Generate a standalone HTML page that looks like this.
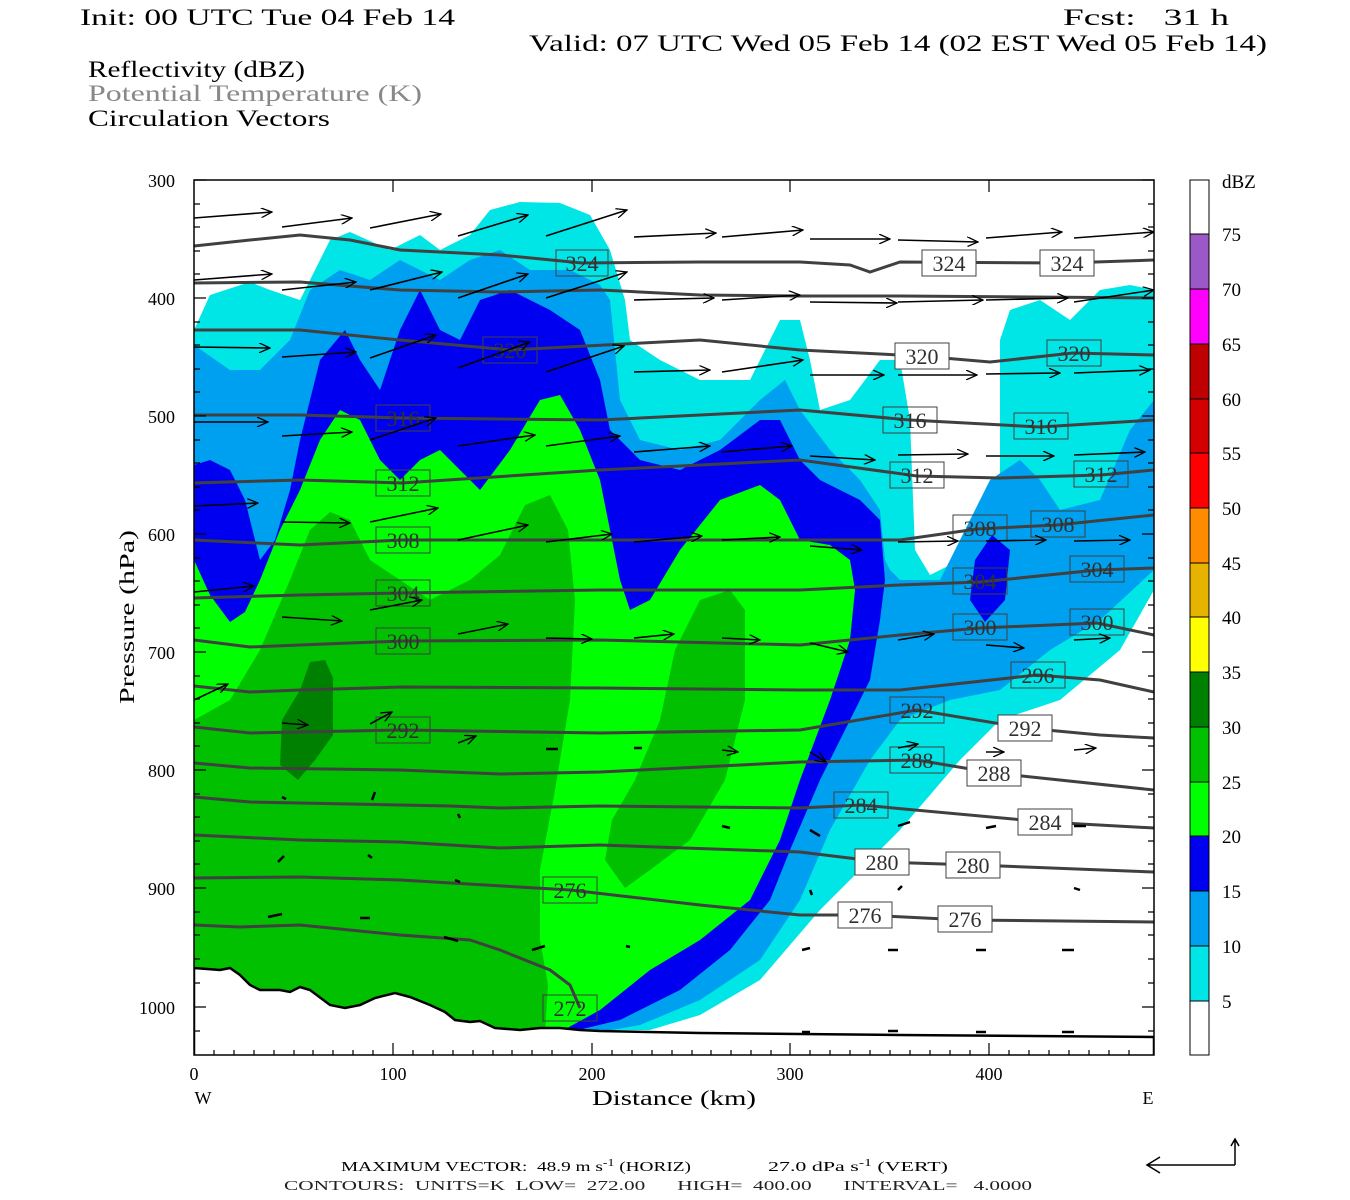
<!DOCTYPE html>
<html><head><meta charset="utf-8"><style>
html,body{margin:0;padding:0;background:#fff;}
svg{display:block;}
text{font-family:"Liberation Serif",serif;white-space:pre;}
</style></head><body>
<svg width="1350" height="1200" viewBox="0 0 1350 1200" xmlns="http://www.w3.org/2000/svg" xml:space="preserve">
<defs>
<marker id="ah" markerWidth="12" markerHeight="10" refX="11" refY="5" orient="auto" markerUnits="userSpaceOnUse">
<path d="M0,0 L11,5 L0,10" fill="none" stroke="#000" stroke-width="1.3"/>
</marker>
<clipPath id="pc"><rect x="194" y="180" width="960" height="875"/></clipPath>
</defs>
<rect width="1350" height="1200" fill="#fff"/>
<g font-size="23" fill="#000">
<text x="80" y="25" textLength="375" lengthAdjust="spacingAndGlyphs">Init: 00 UTC Tue 04 Feb 14</text>
<text x="1063" y="25" textLength="166" lengthAdjust="spacingAndGlyphs">Fcst:   31 h</text>
<text x="529" y="51" textLength="738" lengthAdjust="spacingAndGlyphs">Valid: 07 UTC Wed 05 Feb 14 (02 EST Wed 05 Feb 14)</text>
<text x="88" y="77" textLength="217" lengthAdjust="spacingAndGlyphs">Reflectivity (dBZ)</text>
<text x="88" y="101" textLength="334" lengthAdjust="spacingAndGlyphs" fill="#888">Potential Temperature (K)</text>
<text x="88" y="126" textLength="242" lengthAdjust="spacingAndGlyphs">Circulation Vectors</text>
</g>
<g clip-path="url(#pc)">
<path fill="#00e6e6" d="M194,330 L210,295 L250,282 L270,290 L300,300 L330,240 L350,232 L390,250 L420,235 L440,250 L470,235 L490,210 L520,202 L560,203 L590,215 L610,250 L625,300 L630,340 L660,360 L700,380 L750,380 L780,320 L800,320 L810,360 L820,410 L850,400 L880,360 L900,360 L910,420 L915,550 L930,575 L960,560 L1000,540 L1000,340 L1010,310 L1040,300 L1070,320 L1100,290 L1130,285 L1154,290 L1154,590 L1120,650 L1060,700 L1000,720 L960,760 L900,830 L820,910 L760,980 L700,1015 L650,1030 L194,1030 Z"/>
<path fill="#00a0f0" d="M194,345 L230,370 L260,370 L290,340 L310,290 L340,270 L370,280 L400,260 L440,280 L470,260 L500,250 L530,270 L570,270 L600,285 L610,300 L620,400 L640,440 L680,450 L720,440 L760,400 L785,380 L800,410 L830,450 L860,480 L880,510 L885,560 L890,570 L900,580 L940,580 L960,540 L990,480 L1020,460 L1040,480 L1060,510 L1100,500 L1130,430 L1154,400 L1154,570 L1100,620 L1050,650 L1000,690 L950,700 L900,720 L870,760 L830,830 L800,900 L760,960 L700,1000 L640,1025 L600,1032 L194,1032 Z"/>
<path fill="#0000f0" d="M194,465 L210,460 L230,470 L245,500 L255,540 L260,560 L275,540 L290,490 L300,440 L320,360 L345,330 L360,360 L380,390 L400,330 L420,290 L440,330 L460,340 L480,300 L510,290 L550,310 L580,330 L600,380 L610,430 L640,460 L680,470 L720,450 L760,420 L780,420 L800,460 L820,480 L860,500 L880,520 L885,580 L880,620 L870,680 L850,720 L820,780 L790,850 L770,900 L730,950 L680,990 L620,1020 L570,1032 L194,1032 Z"/>
<path fill="#0000f0" d="M975,560 L992,535 L1010,550 L1005,600 L985,622 L970,600 Z"/>
<path fill="#00ff00" d="M194,560 L210,595 L230,622 L245,612 L260,580 L280,530 L300,490 L320,440 L340,410 L360,420 L380,460 L400,480 L420,460 L440,450 L460,470 L480,490 L510,450 L540,400 L560,395 L580,430 L600,480 L610,530 L620,580 L630,610 L650,600 L680,550 L720,500 L760,485 L780,500 L800,540 L830,545 L850,560 L855,590 L850,640 L830,700 L800,780 L780,840 L750,900 L700,940 L650,970 L600,1010 L560,1032 L194,1032 Z"/>
<path fill="#00c000" d="M194,720 L230,700 L260,650 L290,580 L310,530 L330,512 L350,520 L370,560 L400,580 L430,600 L470,580 L500,555 L525,505 L550,495 L568,530 L575,600 L570,700 L555,790 L540,870 L540,940 L548,985 L545,1032 L194,1032 Z"/>
<path fill="#00c000" d="M605,860 L612,820 L635,780 L660,720 L675,650 L700,600 L730,590 L745,610 L745,700 L725,780 L690,840 L650,870 L625,888 Z"/>
<path fill="#008000" d="M280,765 L282,720 L300,690 L310,662 L325,660 L333,678 L333,735 L315,760 L298,780 Z"/>
<path fill="#fff" stroke="#000" stroke-width="2.5" d="M194,968 L220,970 L230,968 L240,975 L250,985 L260,990 L280,990 L290,992 L300,987 L310,990 L330,1005 L345,1008 L360,1005 L375,998 L395,993 L410,997 L430,1005 L445,1012 L455,1020 L470,1022 L480,1021 L495,1028 L520,1030 L540,1028 L560,1028 L580,1030 L600,1031 L700,1033 L800,1034 L900,1035 L1154,1037 L1154,1060 L194,1060 Z"/>
<g fill="none" stroke="#404040" stroke-width="3">
<polyline points="194,246 250,240 300,235 350,240 400,250 500,255 582,263 700,262 800,262 850,265 870,272 900,262 1066,263 1154,260"/>
<polyline points="194,283 300,282 400,290 500,292 600,290 700,295 800,296 900,296 1154,298"/>
<polyline points="194,330 300,330 400,340 510,350 700,340 800,350 920,356 990,362 1073,353 1154,355"/>
<polyline points="194,415 300,415 402,418 600,420 800,410 910,420 1040,427 1154,420"/>
<polyline points="194,483 300,480 402,483 600,470 800,460 917,476 1000,478 1101,475 1154,470"/>
<polyline points="194,540 300,545 402,540 600,540 800,540 900,540 977,529 1057,525 1154,515"/>
<polyline points="194,598 300,595 402,593 600,590 800,590 900,585 980,582 1097,570 1154,568"/>
<polyline points="194,640 250,647 300,645 402,641 600,640 800,645 900,635 980,628 1097,623 1154,635"/>
<polyline points="194,686 250,692 300,690 402,687 600,688 800,690 900,690 1037,675 1100,680 1154,692"/>
<polyline points="194,727 250,733 300,732 402,730 600,733 800,730 917,710 1025,728 1100,735 1154,738"/>
<polyline points="194,763 250,768 400,770 450,772 500,774 600,772 800,762 917,760 994,773 1154,790"/>
<polyline points="194,797 250,802 400,805 450,806 500,808 600,806 800,808 861,805 1045,822 1154,828"/>
<polyline points="194,835 300,840 400,842 500,848 600,845 800,852 882,862 974,865 1154,872"/>
<polyline points="194,878 300,877 400,880 570,890 700,905 800,915 865,915 965,920 1154,922"/>
<polyline points="194,925 240,927 300,925 400,935 470,940 500,950 550,970 570,985 580,1008"/>
</g>
<g font-size="22" fill="#303030" stroke="#404040" stroke-width="1">
<g fill="none">
<rect x="556" y="250" width="52" height="26"/><rect x="483" y="337" width="54" height="26"/>
<rect x="376" y="405" width="54" height="26"/><rect x="376" y="470" width="54" height="26"/>
<rect x="376" y="527" width="54" height="26"/><rect x="376" y="580" width="54" height="26"/>
<rect x="376" y="628" width="54" height="26"/><rect x="376" y="717" width="54" height="26"/>
<rect x="543" y="877" width="54" height="26"/><rect x="543" y="995" width="54" height="26"/>
<rect x="890" y="697" width="54" height="26"/><rect x="890" y="747" width="54" height="26"/>
<rect x="834" y="792" width="54" height="26"/><rect x="1011" y="662" width="54" height="26"/>
<rect x="953" y="515" width="54" height="26"/><rect x="1031" y="511" width="54" height="26"/>
<rect x="953" y="568" width="54" height="26"/><rect x="1070" y="556" width="54" height="26"/>
<rect x="953" y="614" width="54" height="26"/><rect x="1070" y="609" width="54" height="26"/>
<rect x="1014" y="413" width="54" height="26"/><rect x="1074" y="461" width="54" height="26"/>
<rect x="1047" y="340" width="54" height="26"/><rect x="883" y="407" width="54" height="26"/>
<rect x="890" y="462" width="54" height="26"/>
</g>
<g fill="#fff">
<rect x="922" y="250" width="54" height="26"/><rect x="1040" y="250" width="54" height="26"/>
<rect x="895" y="343" width="54" height="26"/><rect x="998" y="715" width="54" height="26"/>
<rect x="967" y="760" width="54" height="26"/><rect x="1018" y="809" width="54" height="26"/>
<rect x="855" y="849" width="54" height="26"/><rect x="946" y="852" width="54" height="26"/>
<rect x="838" y="902" width="54" height="26"/><rect x="938" y="906" width="54" height="26"/>
</g>
<g stroke="none" font-family="Liberation Sans" text-anchor="middle">
<text x="582" y="271">324</text><text x="949" y="271">324</text><text x="1067" y="271">324</text>
<text x="510" y="358">320</text><text x="922" y="364">320</text><text x="1074" y="361">320</text>
<text x="403" y="426">316</text><text x="910" y="428">316</text><text x="1041" y="434">316</text>
<text x="403" y="491">312</text><text x="917" y="483">312</text><text x="1101" y="482">312</text>
<text x="403" y="548">308</text><text x="980" y="536">308</text><text x="1058" y="532">308</text>
<text x="403" y="601">304</text><text x="980" y="589">304</text><text x="1097" y="577">304</text>
<text x="403" y="649">300</text><text x="980" y="635">300</text><text x="1097" y="630">300</text>
<text x="1038" y="683">296</text>
<text x="403" y="738">292</text><text x="917" y="718">292</text><text x="1025" y="736">292</text>
<text x="917" y="768">288</text><text x="994" y="781">288</text>
<text x="861" y="813">284</text><text x="1045" y="830">284</text>
<text x="882" y="870">280</text><text x="973" y="873">280</text>
<text x="570" y="898">276</text><text x="865" y="923">276</text><text x="965" y="927">276</text>
<text x="570" y="1016">272</text>
</g>
</g>
<g stroke="#000" stroke-width="1.6" marker-end="url(#ah)">
<line x1="194" y1="218" x2="272" y2="212"/><line x1="282" y1="227" x2="352" y2="218"/><line x1="370" y1="228" x2="441" y2="214"/><line x1="458" y1="236" x2="528" y2="215"/><line x1="546" y1="236" x2="627" y2="210"/><line x1="634" y1="237" x2="716" y2="233"/><line x1="722" y1="237" x2="803" y2="230"/><line x1="810" y1="239" x2="890" y2="239"/><line x1="898" y1="240" x2="978" y2="242"/><line x1="986" y1="238" x2="1062" y2="232"/><line x1="1074" y1="238" x2="1154" y2="232"/>
<line x1="194" y1="280" x2="272" y2="274"/><line x1="282" y1="290" x2="356" y2="282"/><line x1="370" y1="290" x2="442" y2="272"/><line x1="458" y1="298" x2="528" y2="274"/><line x1="546" y1="298" x2="627" y2="272"/><line x1="634" y1="300" x2="714" y2="298"/><line x1="722" y1="300" x2="800" y2="295"/><line x1="810" y1="302" x2="897" y2="303"/><line x1="898" y1="302" x2="983" y2="300"/><line x1="986" y1="300" x2="1068" y2="298"/><line x1="1074" y1="302" x2="1154" y2="290"/>
<line x1="194" y1="347" x2="270" y2="348"/><line x1="282" y1="357" x2="356" y2="352"/><line x1="370" y1="358" x2="436" y2="335"/><line x1="458" y1="368" x2="530" y2="342"/><line x1="546" y1="372" x2="624" y2="346"/><line x1="634" y1="372" x2="710" y2="370"/><line x1="722" y1="372" x2="803" y2="360"/><line x1="810" y1="375" x2="884" y2="375"/><line x1="898" y1="375" x2="977" y2="375"/><line x1="986" y1="374" x2="1060" y2="373"/><line x1="1074" y1="373" x2="1150" y2="370"/>
<line x1="194" y1="422" x2="268" y2="422"/><line x1="282" y1="436" x2="352" y2="432"/><line x1="370" y1="440" x2="436" y2="418"/><line x1="458" y1="446" x2="535" y2="435"/><line x1="546" y1="446" x2="620" y2="436"/><line x1="634" y1="452" x2="710" y2="446"/><line x1="722" y1="452" x2="792" y2="446"/><line x1="810" y1="456" x2="875" y2="460"/><line x1="898" y1="455" x2="968" y2="454"/><line x1="986" y1="456" x2="1054" y2="456"/><line x1="1074" y1="455" x2="1145" y2="452"/>
<line x1="194" y1="506" x2="258" y2="503"/><line x1="282" y1="522" x2="350" y2="523"/><line x1="370" y1="522" x2="438" y2="508"/><line x1="458" y1="540" x2="528" y2="525"/><line x1="546" y1="542" x2="612" y2="534"/><line x1="634" y1="542" x2="702" y2="536"/><line x1="722" y1="540" x2="780" y2="537"/><line x1="810" y1="546" x2="862" y2="550"/><line x1="898" y1="542" x2="958" y2="541"/><line x1="986" y1="541" x2="1046" y2="540"/><line x1="1074" y1="541" x2="1130" y2="540"/>
<line x1="194" y1="592" x2="254" y2="586"/><line x1="282" y1="617" x2="342" y2="621"/><line x1="370" y1="610" x2="422" y2="600"/><line x1="458" y1="634" x2="508" y2="624"/><line x1="546" y1="638" x2="592" y2="639"/><line x1="634" y1="638" x2="674" y2="634"/><line x1="722" y1="638" x2="760" y2="640"/><line x1="810" y1="643" x2="848" y2="652"/><line x1="898" y1="640" x2="934" y2="634"/><line x1="986" y1="645" x2="1024" y2="648"/><line x1="1074" y1="640" x2="1110" y2="638"/>
<line x1="194" y1="700" x2="228" y2="684"/><line x1="282" y1="723" x2="308" y2="725"/><line x1="370" y1="724" x2="392" y2="712"/><line x1="458" y1="743" x2="476" y2="736"/><line x1="722" y1="750" x2="738" y2="752"/><line x1="810" y1="752" x2="826" y2="762"/><line x1="898" y1="748" x2="918" y2="744"/><line x1="986" y1="752" x2="1004" y2="752"/><line x1="1074" y1="750" x2="1096" y2="748"/>
</g>
<g stroke="#000" stroke-width="2.5">
<line x1="546" y1="749" x2="558" y2="749"/><line x1="634" y1="748" x2="642" y2="748"/>
<line x1="282" y1="797" x2="286" y2="799"/><line x1="372" y1="800" x2="375" y2="792"/><line x1="460" y1="818" x2="458" y2="814"/>
<line x1="278" y1="862" x2="284" y2="856"/><line x1="368" y1="855" x2="372" y2="858"/><line x1="455" y1="880" x2="460" y2="882"/>
<line x1="268" y1="917" x2="282" y2="914"/><line x1="360" y1="918" x2="370" y2="918"/><line x1="444" y1="937" x2="458" y2="941"/>
<line x1="532" y1="950" x2="545" y2="946"/><line x1="626" y1="946" x2="630" y2="947"/><line x1="722" y1="826" x2="730" y2="828"/>
<line x1="810" y1="830" x2="820" y2="836"/><line x1="898" y1="826" x2="910" y2="822"/><line x1="986" y1="828" x2="996" y2="826"/>
<line x1="1074" y1="826" x2="1086" y2="826"/><line x1="810" y1="890" x2="812" y2="895"/><line x1="898" y1="890" x2="902" y2="886"/>
<line x1="1074" y1="888" x2="1080" y2="890"/><line x1="802" y1="950" x2="810" y2="948"/><line x1="888" y1="950" x2="898" y2="950"/>
<line x1="976" y1="950" x2="986" y2="950"/><line x1="1062" y1="950" x2="1074" y2="950"/><line x1="802" y1="1032" x2="810" y2="1032"/>
<line x1="888" y1="1031" x2="898" y2="1031"/><line x1="976" y1="1032" x2="986" y2="1032"/><line x1="1062" y1="1032" x2="1074" y2="1032"/>
</g>
</g>
<rect x="194" y="180" width="960" height="875" fill="none" stroke="#000" stroke-width="1.5"/>
<g stroke="#000" stroke-width="1.2">
<path d="M194,180h12M194,298h12M194,416h12M194,534h12M194,652h12M194,770h12M194,888h12M194,1007h12M1154,180h-12M1154,298h-12M1154,416h-12M1154,534h-12M1154,652h-12M1154,770h-12M1154,888h-12M1154,1007h-12"/>
<path d="M194,204h6M194,227h6M194,251h6M194,274h6M194,322h6M194,345h6M194,369h6M194,392h6M194,440h6M194,463h6M194,487h6M194,510h6M194,558h6M194,581h6M194,605h6M194,628h6M194,676h6M194,699h6M194,723h6M194,746h6M194,794h6M194,817h6M194,841h6M194,864h6M194,912h6M194,935h6M194,959h6M194,983h6M194,1031h6"/>
<path d="M1154,204h-6M1154,227h-6M1154,251h-6M1154,274h-6M1154,322h-6M1154,345h-6M1154,369h-6M1154,392h-6M1154,440h-6M1154,463h-6M1154,487h-6M1154,510h-6M1154,558h-6M1154,581h-6M1154,605h-6M1154,628h-6M1154,676h-6M1154,699h-6M1154,723h-6M1154,746h-6M1154,794h-6M1154,817h-6M1154,841h-6M1154,864h-6M1154,912h-6M1154,935h-6M1154,959h-6M1154,983h-6M1154,1031h-6"/>
<path d="M393,1055v-12M592,1055v-12M790,1055v-12M989,1055v-12M393,180v12M592,180v12M790,180v12M989,180v12"/>
<path d="M214,1055v-5M234,1055v-5M254,1055v-5M274,1055v-5M294,1055v-5M313,1055v-5M333,1055v-5M353,1055v-5M373,1055v-5M413,1055v-5M433,1055v-5M453,1055v-5M473,1055v-5M493,1055v-5M512,1055v-5M532,1055v-5M552,1055v-5M572,1055v-5M612,1055v-5M632,1055v-5M652,1055v-5M672,1055v-5M692,1055v-5M711,1055v-5M731,1055v-5M751,1055v-5M771,1055v-5M810,1055v-5M830,1055v-5M850,1055v-5M870,1055v-5M890,1055v-5M910,1055v-5M930,1055v-5M950,1055v-5M970,1055v-5M1009,1055v-5M1029,1055v-5M1049,1055v-5M1069,1055v-5M1089,1055v-5M1109,1055v-5M1129,1055v-5"/>
</g>
<g font-size="18" fill="#000" text-anchor="end">
<text x="175" y="187">300</text><text x="175" y="305">400</text><text x="175" y="423">500</text><text x="175" y="541">600</text><text x="175" y="659">700</text><text x="175" y="777">800</text><text x="175" y="895">900</text><text x="175" y="1014">1000</text>
</g>
<g font-size="18" fill="#000" text-anchor="middle">
<text x="194" y="1080">0</text><text x="393" y="1080">100</text><text x="592" y="1080">200</text><text x="790" y="1080">300</text><text x="989" y="1080">400</text>
<text x="203" y="1104">W</text><text x="1148" y="1104">E</text>
</g>
<text x="674" y="1105" font-size="21" text-anchor="middle" textLength="164" lengthAdjust="spacingAndGlyphs">Distance (km)</text>
<text transform="translate(134,617) rotate(-90)" font-size="21" text-anchor="middle" textLength="174" lengthAdjust="spacingAndGlyphs">Pressure (hPa)</text>
<g stroke="#000" stroke-width="1">
<rect x="1190" y="180" width="19" height="54" fill="#fff"/>
<rect x="1190" y="234" width="19" height="55" fill="#9b59c8"/>
<rect x="1190" y="289" width="19" height="55" fill="#ff00ff"/>
<rect x="1190" y="344" width="19" height="55" fill="#be0000"/>
<rect x="1190" y="399" width="19" height="54" fill="#d40000"/>
<rect x="1190" y="453" width="19" height="55" fill="#ff0000"/>
<rect x="1190" y="508" width="19" height="55" fill="#ff8c00"/>
<rect x="1190" y="563" width="19" height="54" fill="#e6b400"/>
<rect x="1190" y="617" width="19" height="55" fill="#ffff00"/>
<rect x="1190" y="672" width="19" height="55" fill="#008000"/>
<rect x="1190" y="727" width="19" height="55" fill="#00c000"/>
<rect x="1190" y="782" width="19" height="54" fill="#00ff00"/>
<rect x="1190" y="836" width="19" height="55" fill="#0000f0"/>
<rect x="1190" y="891" width="19" height="55" fill="#00a0f0"/>
<rect x="1190" y="946" width="19" height="55" fill="#00e6e6"/>
<rect x="1190" y="1001" width="19" height="54" fill="#fff"/>
</g>
<g font-size="19" fill="#000">
<text x="1222" y="188">dBZ</text>
<text x="1222" y="241">75</text><text x="1222" y="296">70</text><text x="1222" y="351">65</text><text x="1222" y="406">60</text><text x="1222" y="460">55</text><text x="1222" y="515">50</text><text x="1222" y="570">45</text><text x="1222" y="624">40</text><text x="1222" y="679">35</text><text x="1222" y="734">30</text><text x="1222" y="789">25</text><text x="1222" y="843">20</text><text x="1222" y="898">15</text><text x="1222" y="953">10</text><text x="1222" y="1008">5</text>
</g>
<g font-size="14" fill="#000">
<text x="341" y="1171" textLength="350" lengthAdjust="spacingAndGlyphs">MAXIMUM VECTOR:  48.9 m s<tspan dy="-5" font-size="10">-1</tspan><tspan dy="5"> (HORIZ)</tspan></text>
<text x="768" y="1171" textLength="180" lengthAdjust="spacingAndGlyphs">27.0 dPa s<tspan dy="-5" font-size="10">-1</tspan><tspan dy="5"> (VERT)</tspan></text>
<text x="284" y="1190" textLength="748" lengthAdjust="spacingAndGlyphs" fill="#222">CONTOURS:  UNITS=K  LOW=  272.00      HIGH=  400.00      INTERVAL=   4.0000</text>
</g>
<g stroke="#000" stroke-width="1.5" fill="none">
<path d="M1235,1165 H1147 M1160,1157 L1147,1165 L1160,1173 M1235,1165 V1139 M1231,1146 L1235,1139 L1239,1146"/>
</g>
</svg>
</body></html>
